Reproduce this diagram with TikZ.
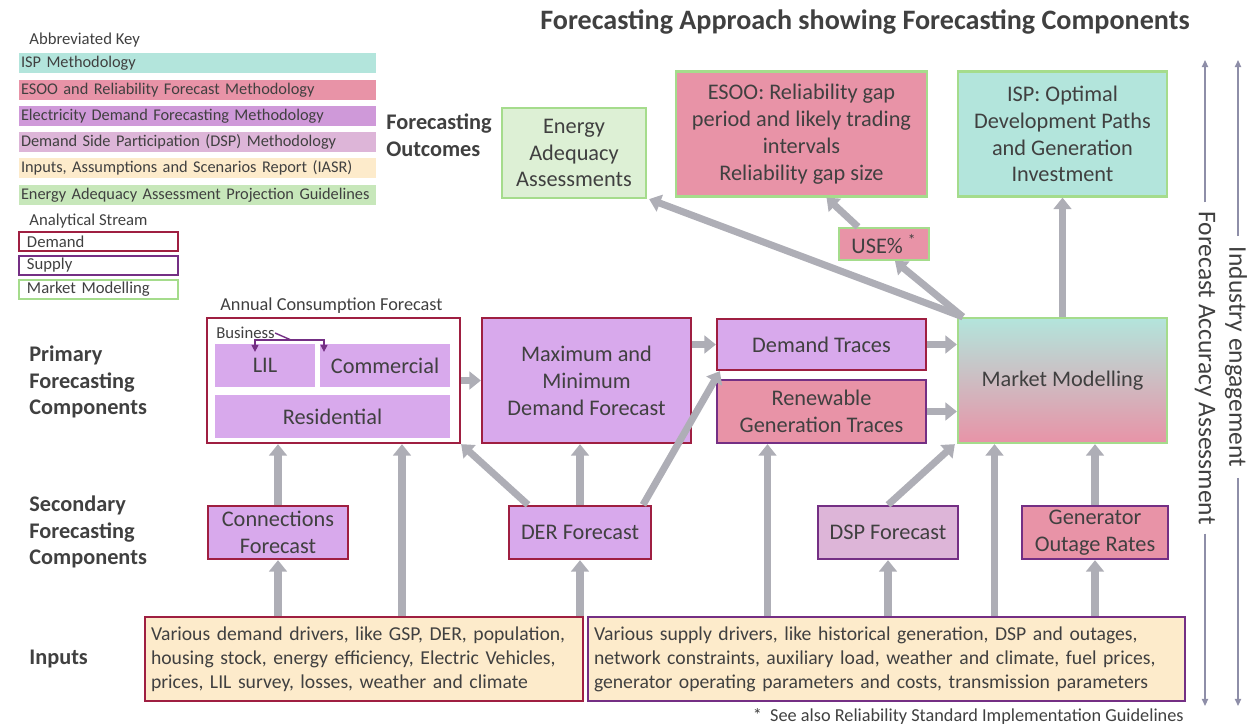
\documentclass[tikz,border=0pt]{standalone}
\usepackage{fontspec}
\setmainfont{Carlito}
\usetikzlibrary{arrows.meta}
\newdimen\px \px=0.02cm
\definecolor{ispteal}{HTML}{B3E5DC}
\definecolor{esoopink}{HTML}{E893A7}
\definecolor{edfpurple}{HTML}{CF99D9}
\definecolor{edfbox}{HTML}{D8A9EC}
\definecolor{dspmauve}{HTML}{DDB5D8}
\definecolor{iasrcream}{HTML}{FDEBCB}
\definecolor{eaagreen}{HTML}{C7E7BA}
\definecolor{eaabox}{HTML}{DDF0D5}
\definecolor{demred}{HTML}{9F1F41}
\definecolor{suppurple}{HTML}{742F84}
\definecolor{mmgreen}{HTML}{A5DC8C}
\definecolor{flowgray}{HTML}{AEAEB6}
\definecolor{sidegray}{HTML}{8E8EA8}
\definecolor{txtgray}{HTML}{404040}
\tikzset{
  every node/.style={text=txtgray},
  box/.style={line width=1.3pt, align=center, inner sep=0pt, font=\fontsize{12.7}{15.3}\selectfont},
  inbox/.style={box, fill=iasrcream, align=left, inner xsep=6\px, font=\fontsize{11.2}{13.6}\selectfont},
  keybar/.style={minimum height=20\px, text width=353\px, inner xsep=2\px, inner ysep=0pt, align=left, font=\fontsize{9.3}{11}\selectfont},
  streambox/.style={draw, line width=1.2pt, minimum height=19\px, text width=143\px, inner xsep=8\px, inner ysep=0pt, align=left, font=\fontsize{9.5}{11}\selectfont},
  small/.style={anchor=west, inner sep=0pt, font=\fontsize{9.5}{11}\selectfont},
  rowlabel/.style={anchor=west, inner sep=0pt, align=left, font=\bfseries\fontsize{12.7}{15.3}\selectfont},
  flow/.style={draw=flowgray, line width=4pt, -{Triangle[length=6.5pt,width=10pt]}},
  side/.style={draw=sidegray, line width=0.9pt, -{Triangle[length=4pt,width=3.5pt]}},
  bizline/.style={draw=suppurple, line width=0.8pt},
}
\begin{document}
\begin{tikzpicture}[x=0.02cm,y=-0.02cm]
\useasboundingbox (0,0) rectangle (1251,726);

\node[font=\bfseries\fontsize{16}{19}\selectfont] (title) at (865,22) {Forecasting Approach showing Forecasting Components};

% key
\node[small] (keyt) at (29,40) {Abbreviated Key};
\node[keybar, fill=ispteal] (kisp) at (197.5,63) {ISP Methodology};
\node[keybar, fill=esoopink] (kesoo) at (197.5,90) {ESOO and Reliability Forecast Methodology};
\node[keybar, fill=edfpurple] (kedf) at (197.5,116) {Electricity Demand Forecasting Methodology};
\node[keybar, fill=dspmauve] (kdsp) at (197.5,142) {Demand Side Participation (DSP) Methodology};
\node[keybar, fill=iasrcream] (kiasr) at (197.5,168) {Inputs, Assumptions and Scenarios Report (IASR)};
\node[keybar, fill=eaagreen] (keaa) at (197.5,195) {Energy Adequacy Assessment Projection Guidelines};
\node[small] (streamt) at (29,221) {Analytical Stream};
\node[streambox, draw=demred] (sdem) at (98.5,241.5) {Demand};
\node[streambox, draw=suppurple] (ssup) at (98.5,265.5) {Supply};
\node[streambox, draw=mmgreen] (smm) at (98.5,289.5) {Market Modelling};

% row labels
\node[rowlabel] (outl) at (386,135) {Forecasting\\Outcomes};
\node[rowlabel] (priml) at (29,382) {Primary\\Forecasting\\Components};
\node[rowlabel] (secl) at (29,532) {Secondary\\Forecasting\\Components};
\node[rowlabel] (inl) at (29,659) {Inputs};

% outcomes
\node[box, draw=mmgreen, fill=eaabox, minimum width=144\px, minimum height=90\px] (eaa) at (574,153) {Energy\\Adequacy\\Assessments};
\node[box, draw=mmgreen, fill=esoopink, minimum width=251\px, minimum height=125\px] (esoo) at (801.5,134) {ESOO: Reliability gap\\period and likely trading\\intervals\\Reliability gap size};
\node[box, draw=mmgreen, fill=ispteal, minimum width=209\px, minimum height=125\px] (isp) at (1062.5,134) {ISP: Optimal\\Development Paths\\and Generation\\Investment};
\node[box, draw=mmgreen, fill=esoopink, minimum width=90\px, minimum height=32\px] (use) at (884,244) {USE\% \textsuperscript{*}};

% primary
\node[small, font=\fontsize{10.4}{12}\selectfont] (acft) at (220,306) {Annual Consumption Forecast};
\node[box, draw=demred, fill=white, minimum width=253\px, minimum height=125\px] (acf) at (333.5,380.5) {};
\node[box, fill=edfbox, minimum width=100\px, minimum height=43\px] (lil) at (265,365.5) {LIL};
\node[box, fill=edfbox, minimum width=130\px, minimum height=43\px] (com) at (385,365.5) {Commercial};
\node[box, fill=edfbox, minimum width=235\px, minimum height=43\px] (res) at (332.5,416.5) {Residential};
\node[small] (biz) at (216,333) {Business};
\coordinate (bizJ) at (291,340);
\draw[bizline] (biz.east) -- (bizJ);
\draw[bizline, -{Triangle[length=4pt,width=4pt]}] (bizJ) -| ([xshift=-10\px, yshift=-9\px]lil.north);
\draw[bizline, -{Triangle[length=4pt,width=4pt]}] (bizJ) -| ([xshift=-61\px, yshift=-9\px]com.north);
\node[box, draw=demred, fill=edfbox, minimum width=209\px, minimum height=125\px] (maxmin) at (586.5,380.5) {Maximum and\\Minimum\\Demand Forecast};
\node[box, draw=demred, fill=edfbox, minimum width=209\px, minimum height=51\px] (dtr) at (821.5,344.5) {Demand Traces};
\node[box, draw=suppurple, fill=esoopink, minimum width=209\px, minimum height=63\px] (ren) at (821.5,411.5) {Renewable\\Generation Traces};
\node[box, draw=mmgreen, top color=ispteal, bottom color=esoopink, minimum width=209\px, minimum height=125\px] (mm) at (1062.5,380.5) {Market Modelling};

% secondary
\node[box, draw=demred, fill=edfbox, minimum width=140\px, minimum height=53\px] (conn) at (278,532.5) {Connections\\Forecast};
\node[box, draw=demred, fill=edfbox, minimum width=142\px, minimum height=53\px] (der) at (580,532.5) {DER Forecast};
\node[box, draw=suppurple, fill=dspmauve, minimum width=140\px, minimum height=53\px] (dsp) at (888,532.5) {DSP Forecast};
\node[box, draw=suppurple, fill=esoopink, minimum width=146\px, minimum height=53\px] (gen) at (1095,532.5) {Generator\\Outage Rates};

% inputs
\node[inbox, draw=demred, text width=426\px, minimum height=84\px] (inD) at (364,659) {Various demand drivers, like GSP, DER, population,\\housing stock, energy efficiency, Electric Vehicles,\\prices, LIL survey, losses, weather and climate};
\node[inbox, draw=suppurple, text width=585\px, minimum height=84\px] (inS) at (886.5,659) {Various supply drivers, like historical generation, DSP and outages,\\network constraints, auxiliary load, weather and climate, fuel prices,\\generator operating parameters and costs, transmission parameters};
\node[anchor=east, inner sep=0pt, font=\fontsize{10.4}{12}\selectfont] (note) at (1184,716) {*\ \ See also Reliability Standard Implementation Guidelines};

% flows
\coordinate (acfIn) at ([xshift=38\px]inD.north);
\coordinate (renIn) at ([xshift=-54\px]ren.south);
\coordinate (mmIn) at ([xshift=-68\px]mm.south);
\coordinate (mmOut) at ([xshift=6\px]mm.north west);
\draw[flow] (inD.north -| conn.south) -- (conn.south);
\draw[flow] (conn.north) -- (acf.south -| conn.north);
\draw[flow] (acfIn) -- (acfIn |- acf.south);
\draw[flow] (inD.north -| der.south) -- (der.south);
\draw[flow] ([xshift=-52\px]der.north) -- (acf.south east);
\draw[flow] (der.north) -- (der.north |- maxmin.south);
\draw[flow] ([xshift=63\px]der.north) -- ([xshift=4\px]dtr.south west);
\draw[flow] (acf.east) -- (maxmin.west);
\draw[flow] (maxmin.east |- dtr.west) -- (dtr.west);
\draw[flow] (dtr.east) -- (dtr.east -| mm.west);
\draw[flow] (ren.east) -- (ren.east -| mm.west);
\draw[flow] (inS.north -| renIn) -- (renIn);
\draw[flow] (inS.north -| dsp.south) -- (dsp.south);
\draw[flow] (dsp.north) -- ([xshift=-2\px]mm.south west);
\draw[flow] (inS.north -| mmIn) -- (mmIn);
\draw[flow] (inS.north -| gen.south) -- (gen.south);
\draw[flow] (gen.north) -- (gen.north |- mm.south);
\draw[flow] (mm.north) -- (isp.south);
\draw[flow] (mmOut) -- ([xshift=11\px]use.south);
\draw[flow] ([xshift=-26\px]use.north) -- ([xshift=25\px]esoo.south);
\draw[flow] (mmOut) -- ([xshift=2\px]eaa.south east);

% side arrows
\node[rotate=-90, inner sep=5pt, font=\fontsize{14.5}{17}\selectfont] (faa) at (1205,368) {Forecast Accuracy Assessment};
\node[rotate=-90, inner sep=6pt, font=\fontsize{14.5}{17}\selectfont] (ind) at (1236,357) {Industry engagement};
\coordinate (faaTop) at (1205,60); \coordinate (faaBot) at (1205,706);
\coordinate (indTop) at (1238,60); \coordinate (indBot) at (1238,706);
\draw[side] (faa.west) -- (faaTop); \draw[side] (faa.east) -- (faaBot);
\draw[side] (ind.west -| indTop) -- (indTop); \draw[side] (ind.east -| indBot) -- (indBot);
\end{tikzpicture}
\end{document}
